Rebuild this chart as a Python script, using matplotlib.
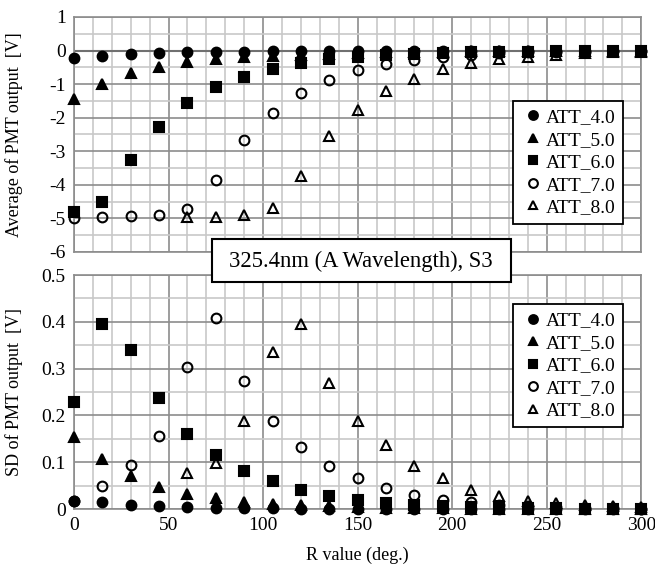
import numpy as np
import matplotlib as mpl
mpl.use('Agg')
import matplotlib.pyplot as plt
from matplotlib.ticker import MultipleLocator
from matplotlib.patches import Rectangle

plt.rcParams['font.family'] = ['Liberation Serif', 'DejaVu Serif']
plt.rcParams['axes.unicode_minus'] = False

nan = np.nan
r = [0, 15, 30, 45, 60, 75, 90, 105, 120, 135, 150, 165, 180, 195, 210, 225, 240, 255, 270, 285, 300]

# average of PMT output [V]
avg4 = [-0.22, -0.15, -0.1, -0.07, -0.05, -0.04, -0.03, -0.02, -0.02, -0.01, -0.01, -0.01, -0.01, 0, 0, 0, 0, 0, 0, 0, 0]
avg5 = [-1.45, -1.0, -0.68, -0.48, -0.35, -0.26, -0.2, -0.15, -0.12, -0.09, -0.07, -0.05, -0.04, -0.03, -0.02, -0.02, -0.01, -0.01, -0.01, 0, 0]
avg6 = [-4.8, -4.52, -3.25, -2.27, -1.55, -1.08, -0.78, -0.54, -0.37, -0.25, -0.18, -0.13, -0.1, -0.07, -0.05, -0.04, -0.03, -0.02, -0.02, -0.01, -0.01]
avg7 = [-4.98, -4.96, -4.93, -4.9, -4.72, -3.87, -2.66, -1.86, -1.25, -0.87, -0.58, -0.39, -0.27, -0.19, -0.12, -0.08, -0.05, -0.04, -0.03, -0.02, -0.01]
avg8 = [nan, nan, nan, nan, -4.97, -4.96, -4.9, -4.7, -3.73, -2.56, -1.76, -1.2, -0.84, -0.55, -0.36, -0.26, -0.18, -0.12, -0.08, -0.05, -0.03]

# SD of PMT output [V]
sd4 = [0.018, 0.015, 0.009, 0.006, 0.004, 0.003, 0.002, 0.002, 0.001, 0.001, 0.001, 0.001, 0.001, 0, 0, 0, 0, 0, 0, 0, 0]
sd5 = [0.153, 0.106, 0.07, 0.048, 0.033, 0.023, 0.016, 0.011, 0.008, 0.006, 0.004, 0.003, 0.002, 0.002, 0.001, 0.001, 0.001, 0.001, 0, 0, 0]
sd6 = [0.228, 0.396, 0.34, 0.238, 0.16, 0.116, 0.082, 0.059, 0.041, 0.027, 0.02, 0.013, 0.009, 0.006, 0.004, 0.003, 0.002, 0.002, 0.001, 0.001, 0.001]
sd7 = [0.018, 0.05, 0.095, 0.157, 0.303, 0.408, 0.273, 0.189, 0.133, 0.091, 0.067, 0.044, 0.03, 0.02, 0.014, 0.009, 0.006, 0.004, 0.003, 0.002, 0.001]
sd8 = [nan, nan, nan, nan, 0.077, 0.098, 0.189, 0.335, 0.396, 0.269, 0.187, 0.137, 0.091, 0.066, 0.041, 0.028, 0.018, 0.013, 0.008, 0.006, 0.004]

labels = ['ATT_4.0', 'ATT_5.0', 'ATT_6.0', 'ATT_7.0', 'ATT_8.0']
styles = [('o', 'black'), ('^', 'black'), ('s', 'black'), ('o', 'none'), ('^', 'none')]

fig = plt.figure(figsize=(6.55, 5.66), dpi=100)
axTop = fig.add_axes([0.113, 0.5548, 0.866, 0.4152])
axBot = fig.add_axes([0.113, 0.1007, 0.866, 0.4134])

def styleAxes(ax, ymin, ymax, major, minor):
    ax.set_xlim(0, 300)
    ax.set_ylim(ymin, ymax)
    ax.xaxis.set_major_locator(MultipleLocator(50))
    ax.xaxis.set_minor_locator(MultipleLocator(10))
    ax.yaxis.set_major_locator(MultipleLocator(major))
    ax.yaxis.set_minor_locator(MultipleLocator(minor))
    ax.grid(which='minor', color='#c8c8c8', lw=1.2)
    ax.grid(which='major', color='#8c8c8c', lw=1.2)
    ax.set_axisbelow(True)
    ax.tick_params(which='both', length=0, labelsize=14, pad=6)
    for s in ax.spines.values():
        s.set_color('#8c8c8c')
        s.set_linewidth(1.2)

styleAxes(axTop, -6, 1, 1, 0.5)
styleAxes(axBot, 0, 0.5, 0.1, 0.05)
axTop.axhline(0, color='#707070', lw=1.5, zorder=1)
axTop.set_xticklabels([])
axBot.yaxis.set_major_formatter(mpl.ticker.FuncFormatter(lambda v, p: '0' if abs(v) < 1e-9 else '%.1f' % v))

for ax, series in [(axTop, [avg4, avg5, avg6, avg7, avg8]), (axBot, [sd4, sd5, sd6, sd7, sd8])]:
    for ys, lab, (m, fc) in zip(series, labels, styles):
        ax.plot(r, ys, ls='none', marker=m, markersize=7 if m != 's' else 6.5,
                markerfacecolor=fc, markeredgecolor='black', markeredgewidth=1.5,
                label=lab, clip_on=False, zorder=3)

for ax, top in [(axTop, 0.643), (axBot, 0.876)]:
    leg = ax.legend(loc='upper right', bbox_to_anchor=(0.968, top), borderaxespad=0, fontsize=14,
                    handlelength=1.3, handletextpad=0.0, borderpad=0.4, labelspacing=0.25,
                    fancybox=False, edgecolor='black', framealpha=1, markerscale=0.9)
    leg.get_frame().set_linewidth(1.3)

axTop.set_ylabel('Average of PMT output  [V]', fontsize=13)
axBot.set_ylabel('SD of PMT output  [V]', fontsize=13)
axTop.yaxis.set_label_coords(-0.09, 0.5)
axBot.yaxis.set_label_coords(-0.09, 0.5)
axBot.set_xlabel('R value (deg.)', fontsize=13, labelpad=9)

# title box across the gap between the two panels
fig.add_artist(Rectangle((212 / 655, 1 - 282 / 566), 299 / 655, 43 / 566, transform=fig.transFigure,
                         facecolor='white', edgecolor='black', lw=1.5, zorder=10))
fig.text(361 / 655, 1 - 261 / 566, '325.4nm (A Wavelength), S3', fontsize=16.3, ha='center', va='center',
         zorder=11)

plt.savefig('out.png', dpi=100)
